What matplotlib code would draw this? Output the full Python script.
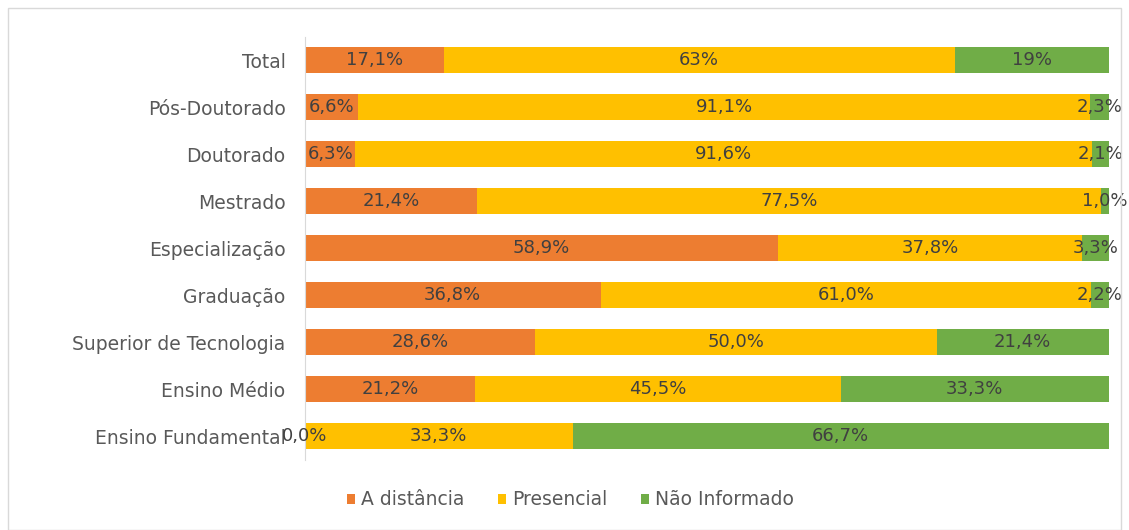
import numpy as np
import matplotlib.pyplot as plt
from matplotlib.patches import Rectangle

categories = ['Total', 'Pós-Doutorado', 'Doutorado', 'Mestrado', 'Especialização',
              'Graduação', 'Superior de Tecnologia', 'Ensino Médio', 'Ensino Fundamental']
distancia = [17.1, 6.6, 6.3, 21.4, 58.9, 36.8, 28.6, 21.2, 0.0]
presencial = [63.0, 91.1, 91.6, 77.5, 37.8, 61.0, 50.0, 45.5, 33.3]
nao_informado = [19.0, 2.3, 2.1, 1.0, 3.3, 2.2, 21.4, 33.3, 66.7]
series_names = ['A distância', 'Presencial', 'Não Informado']
colors = ['#ED7D31', '#FFC000', '#70AD47']

plt.rcParams['font.family'] = ['DejaVu Sans']

def fmt(v, row):
    # the Total row shows whole numbers for two of its segments
    if row == 0 and v in (63.0, 19.0):
        return '{:.0f}%'.format(v)
    return '{:.1f}%'.format(v).replace('.', ',')

data = np.array([distancia, presencial, nao_informado])
totals = data.sum(axis=0)
shares = data / totals * 100

fig = plt.figure(figsize=(11.29, 5.30), dpi=100)
ax = fig.add_axes([0.270, 0.133, 0.712, 0.798])
y = np.arange(len(categories))

left = np.zeros(len(categories))
handles = []
for k in range(3):
    b = ax.barh(y, shares[k], left=left, height=0.56, color=colors[k], label=series_names[k])
    handles.append(b)
    for i in range(len(categories)):
        ax.text(left[i] + shares[k][i] / 2, y[i], fmt(data[k][i], i),
                ha='center', va='center', fontsize=13, color='#404040')
    left += shares[k]

ax.set_xlim(0, 100)
ax.set_ylim(len(categories) - 0.5, -0.5)
ax.set_yticks(y)
ax.set_yticklabels(categories, fontsize=13.5, color='#595959')
ax.tick_params(axis='y', length=0, pad=14)
ax.set_xticks([])
for s in ['top', 'right', 'bottom']:
    ax.spines[s].set_visible(False)
ax.spines['left'].set_color('#D9D9D9')

leg = fig.legend(handles=handles, loc='center', bbox_to_anchor=(0.505, 0.057), ncol=3,
                 frameon=False, fontsize=13.5, handlelength=0.45, handleheight=0.45,
                 handletextpad=0.3, columnspacing=1.8)
for t in leg.get_texts():
    t.set_color('#595959')

fig.patches.append(Rectangle((8 / 1129, 0), 1 - 16 / 1129, 1 - 8 / 530, transform=fig.transFigure,
                             fill=False, ec='#D9D9D9', lw=1))

fig.savefig('out.png', dpi=100)
